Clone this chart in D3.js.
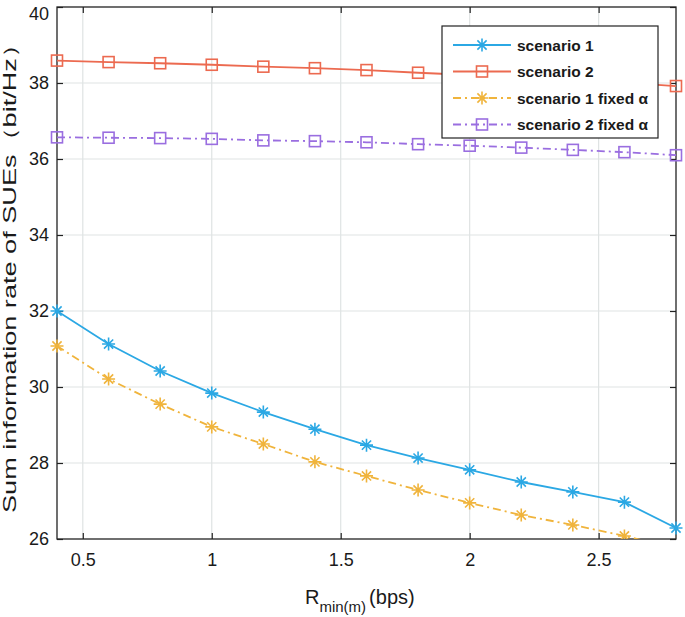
<!DOCTYPE html>
<html><head><meta charset="utf-8">
<script src="https://cdn.jsdelivr.net/npm/d3@7"></script>
<style>body{margin:0;background:#fff}svg{display:block}text{font-family:"Liberation Sans",Arial,sans-serif;fill:#1a1a1a}</style>
</head><body><div id="chart"></div>
<script>
const xValues = [0.4,0.6,0.8,1.0,1.2,1.4,1.6,1.8,2.0,2.2,2.4,2.6,2.8];
const scenario1 = [32.0,31.13,30.42,29.84,29.34,28.89,28.47,28.13,27.82,27.5,27.24,26.97,26.29];
const scenario2 = [38.59,38.55,38.52,38.48,38.43,38.39,38.34,38.27,38.21,38.15,38.08,38.01,37.92];
const scenario1Fixed = [31.08,30.21,29.55,28.95,28.5,28.03,27.66,27.29,26.95,26.63,26.37,26.08,25.75];
const scenario2Fixed = [36.57,36.56,36.55,36.53,36.49,36.47,36.44,36.39,36.35,36.3,36.24,36.18,36.1];
const xTicks = [0.5,1,1.5,2,2.5];
const yTicks = [26,28,30,32,34,36,38,40];
const seriesNames = ["scenario 1","scenario 2","scenario 1 fixed α","scenario 2 fixed α"];

const series = [
  {name: seriesNames[0], values: scenario1, color: "#2ba8e4", dash: null, marker: "star"},
  {name: seriesNames[1], values: scenario2, color: "#ec6a50", dash: null, marker: "square"},
  {name: seriesNames[2], values: scenario1Fixed, color: "#f0b43c", dash: "8,4,2,4", marker: "star"},
  {name: seriesNames[3], values: scenario2Fixed, color: "#9a6ee0", dash: "8,4,2,4", marker: "square"}
];

const W = 685, H = 617;
const L = 57, R = 676, T = 7, B = 539;
const svg = d3.select("#chart").append("svg").attr("width", W).attr("height", H);
const x = d3.scaleLinear().domain([0.4, 2.8]).range([L, R]);
const y = d3.scaleLinear().domain([26, 40]).range([B, T]);

svg.append("defs").append("clipPath").attr("id","clip").append("rect")
  .attr("x", L).attr("y", T).attr("width", R-L).attr("height", B-T);
svg.select("defs").append("clipPath").attr("id","clipm").append("rect")
  .attr("x", 0).attr("y", 0).attr("width", W).attr("height", B);

// grid
const grid = svg.append("g");
grid.selectAll(".gx").data(xTicks).enter().append("line")
  .attr("x1", d=>x(d)).attr("x2", d=>x(d)).attr("y1", T).attr("y2", B)
  .attr("stroke", "#dfe3e3").attr("stroke-width", 1.2);
grid.selectAll(".gy").data(yTicks.slice(1,-1)).enter().append("line")
  .attr("y1", d=>y(d)).attr("y2", d=>y(d)).attr("x1", L).attr("x2", R)
  .attr("stroke", "#dfe3e3").attr("stroke-width", 1.2);

// axes
const axB = d3.axisBottom(x).tickValues(xTicks).tickSize(-6).tickPadding(14).tickFormat(d3.format("~g"));
const axL = d3.axisLeft(y).tickValues(yTicks).tickSize(-6).tickPadding(8).tickFormat(d3.format("d"));
const axT = d3.axisTop(x).tickValues(xTicks).tickSize(-6).tickFormat("");
const axR = d3.axisRight(y).tickValues(yTicks).tickSize(-6).tickFormat("");
function style(g){
  g.select(".domain").remove();
  g.selectAll(".tick line").attr("stroke","#222").attr("stroke-width",1.2);
  g.selectAll(".tick text").attr("font-size", 18).attr("fill","#1a1a1a")
    .attr("font-family","\"Liberation Sans\",Arial,sans-serif");
}
svg.append("g").attr("transform",`translate(0,${B})`).call(axB).call(style);
const gl = svg.append("g").attr("transform",`translate(${L},0)`).call(axL).call(style);
gl.selectAll(".tick text").filter(d=>d===40).attr("dy","0.68em");
svg.append("g").attr("transform",`translate(0,${T})`).call(axT).call(style);
svg.append("g").attr("transform",`translate(${R},0)`).call(axR).call(style);
svg.append("rect").attr("x",L).attr("y",T).attr("width",R-L).attr("height",B-T)
  .attr("fill","none").attr("stroke","#222").attr("stroke-width",1.3);

// lines
const line = d3.line().x((d,i)=>x(xValues[i])).y(d=>y(d));
const plot = svg.append("g");
function drawMarker(g, type, cx, cy, color){
  if(type === "star"){
    const r = 6.5, r2 = 4.6;
    const p = `M${cx-r},${cy}L${cx+r},${cy}M${cx},${cy-r}L${cx},${cy+r}M${cx-r2},${cy-r2}L${cx+r2},${cy+r2}M${cx-r2},${cy+r2}L${cx+r2},${cy-r2}`;
    g.append("path").attr("d", p).attr("stroke", color).attr("stroke-width", 1.6).attr("fill","none");
  } else {
    const s = 5.5;
    g.append("rect").attr("x", cx-s).attr("y", cy-s).attr("width", 2*s).attr("height", 2*s)
      .attr("fill","none").attr("stroke", color).attr("stroke-width", 1.6);
  }
}
series.forEach(s=>{
  plot.append("path").datum(s.values).attr("d", line).attr("fill","none")
    .attr("stroke", s.color).attr("stroke-width", 1.8)
    .attr("stroke-dasharray", s.dash).attr("clip-path","url(#clip)");
  const mg = plot.append("g").attr("clip-path","url(#clipm)");
  s.values.forEach((v,i)=>{ if(v >= 26) drawMarker(mg, s.marker, x(xValues[i]), y(v), s.color); });
});

// legend
const lg = svg.append("g");
lg.append("rect").attr("x",442).attr("y",26).attr("width",216).attr("height",112)
  .attr("fill","#fff").attr("stroke","#222").attr("stroke-width",1.2);
series.forEach((s,i)=>{
  const ly = 45 + i*26.5;
  lg.append("line").attr("x1",453).attr("x2",511).attr("y1",ly).attr("y2",ly)
    .attr("stroke", s.color).attr("stroke-width",1.8).attr("stroke-dasharray", s.dash);
  drawMarker(lg, s.marker, 482, ly, s.color);
  lg.append("text").attr("x",517).attr("y",ly+5.5).attr("font-size",15.5).attr("fill","#1a1a1a")
    .style("font-weight","600").text(s.name);
});

// axis titles
svg.append("text").attr("transform","translate(16,272) rotate(-90)").attr("text-anchor","middle")
  .attr("font-size",18).attr("textLength",482).attr("lengthAdjust","spacingAndGlyphs")
  .text("Sum information rate of SUEs（bit/Hz）");
const xt = svg.append("text").attr("x",305).attr("y",604).attr("font-size",20);
xt.append("tspan").text("R");
xt.append("tspan").attr("font-size",15).attr("dy",8).text("min(m)");
xt.append("tspan").attr("dy",-8).attr("dx",3).text("(bps)");
</script></body></html>
